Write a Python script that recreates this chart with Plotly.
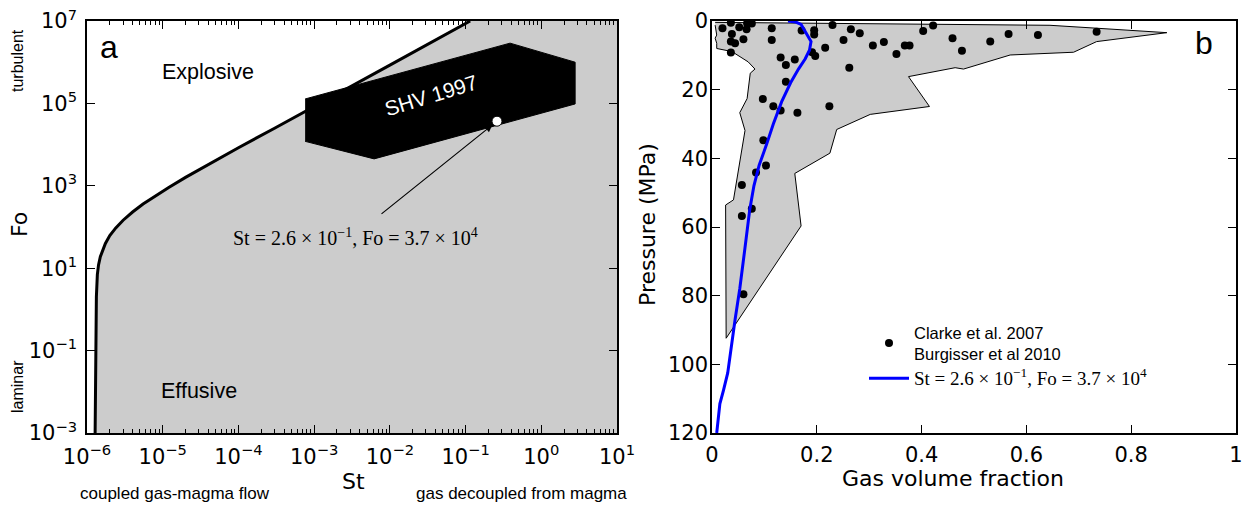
import numpy as np
import plotly.graph_objects as go

# ---------------- Panel a data ----------------
st_curve = [1.28e-6, 1.30e-6, 1.33e-6, 1.37e-6, 1.42e-6, 1.5e-6, 1.6e-6, 1.75e-6, 2.0e-6,
            2.4e-6, 3.0e-6, 4.0e-6, 5.5e-6, 8e-6, 1.2e-5, 2e-5, 4e-5, 1e-4, 3e-4, 1e-3,
            1e-2, 0.115]
fo_curve = [1e-3, 1e-1, 2.0, 7.0, 12.0, 19.0, 27.0, 40.0, 62.0,
            95.0, 146.0, 231.0, 360.0, 570.0, 910.0, 1600.0, 3300.0, 8400.0, 2.5e4, 8.5e4,
            8.5e5, 1e7]

shv_st = [7.6e-4, 0.387, 2.8, 2.8, 6.2e-3, 7.6e-4]
shv_fo = [1.28e5, 2.9e6, 1.0e6, 9.7e4, 4.5e3, 1.2e4]

point_st = [0.26]
point_fo = [3.7e4]
arrow_tail_st = 10 ** -2.13
arrow_tail_fo = 10 ** 2.29

st_range = [1e-6, 10]
fo_range = [1e-3, 1e7]
st_tick_exp = [-6, -5, -4, -3, -2, -1, 0, 1]
fo_tick_exp = [-3, -1, 1, 3, 5, 7]

# ---------------- Panel b data ----------------
env_x = [0.006, 0.435, 0.645, 0.734, 0.868, 0.734, 0.690, 0.569, 0.480, 0.464, 0.375, 0.415,
         0.302, 0.238, 0.225, 0.158, 0.170, 0.027, 0.026, 0.041, 0.063, 0.053, 0.067, 0.073,
         0.082, 0.069, 0.038, 0.009, 0.009, 0.006, 0.009, 0.006]
env_p = [0.4, 0.9, 1.25, 2.1, 3.4, 6.0, 9.1, 9.9, 14.0, 13.6, 16.2, 24.9,
         27.2, 31.6, 38.5, 44.4, 59.7, 92.4, 53.6, 52.1, 31.9, 26.7, 22.6, 15.2,
         14.0, 11.9, 8.9, 8.0, 6.5, 5.0, 4.1, 1.2]

obs_x = [0.020, 0.036, 0.038, 0.052, 0.067, 0.066, 0.076, 0.036, 0.044, 0.060, 0.036,
         0.114, 0.114, 0.131, 0.141, 0.158, 0.141, 0.171, 0.195, 0.195, 0.191, 0.197,
         0.216, 0.230, 0.265, 0.282, 0.251, 0.262, 0.307, 0.328, 0.352, 0.368, 0.377,
         0.403, 0.422, 0.459, 0.477, 0.531, 0.566, 0.622, 0.734, 0.097, 0.117, 0.131,
         0.163, 0.224, 0.098, 0.103, 0.084, 0.057, 0.076, 0.057, 0.060]
obs_p = [2.1, 0.5, 3.8, 1.8, 0.7, 2.4, 0.7, 6.0, 6.5, 5.3, 9.2,
         2.1, 5.5, 10.6, 12.8, 11.2, 17.7, 2.8, 2.7, 3.9, 9.1, 10.2,
         7.8, 1.2, 2.4, 3.6, 5.5, 13.6, 7.1, 6.1, 9.6, 7.1, 7.1,
         2.9, 1.3, 5.0, 8.7, 6.0, 3.8, 4.1, 3.1, 22.7, 24.8, 26.1,
         26.7, 24.8, 34.7, 42.1, 44.1, 47.8, 54.7, 56.8, 79.6]

model_x = [0.145, 0.160, 0.170, 0.176, 0.182, 0.189, 0.186, 0.178, 0.165, 0.150, 0.133,
           0.117, 0.104, 0.090, 0.080, 0.072, 0.063, 0.053, 0.044, 0.036, 0.030, 0.022,
           0.015, 0.009]
model_p = [0.0, 0.3, 1.0, 2.5, 4.2, 6.0, 8.5, 11.0, 14.0, 18.0, 23.5,
           30.0, 36.0, 42.0, 48.0, 55.0, 66.0, 78.0, 87.0, 96.0, 102.5, 107.5,
           111.5, 120.0]

x_ticks_b = [0, 0.2, 0.4, 0.6, 0.8, 1]
x_ticktext_b = ["0", "0.2", "0.4", "0.6", "0.8", "1"]
p_ticks_b = [0, 20, 40, 60, 80, 100, 120]

# page has an 8px body margin: figure is placed at (8, 8)
OFF = 8
FW, FH = 1251 - OFF, 508 - OFF
SANS = "Liberation Sans"
TICKF = "DejaVu Sans"
SERIF = "Liberation Serif"
MATH = "St = 2.6 × 10<sup>−1</sup>, Fo = 3.7 × 10<sup>4</sup>"
EPS = 1e-6


def px(xp):
    return (xp - OFF) / FW


def py(yp):
    return 1 - (yp - OFF) / FH


def pow_label(e):
    return "10<sup>" + (str(e) if e >= 0 else "−" + str(-e)) + "</sup>"


fig = go.Figure()

# gray region right of the boundary curve
fill_st = st_curve + [st_range[1], st_range[1]]
fill_fo = fo_curve + [fo_range[1], fo_range[0]]
fig.add_trace(go.Scatter(x=fill_st, y=fill_fo, fill="toself", fillcolor="#cccccc",
                         mode="none", showlegend=False, hoverinfo="skip",
                         xaxis="x", yaxis="y"))
fig.add_trace(go.Scatter(x=st_curve, y=fo_curve, mode="lines",
                         line=dict(color="black", width=3),
                         showlegend=False, xaxis="x", yaxis="y"))
fig.add_trace(go.Scatter(x=shv_st, y=shv_fo, fill="toself", fillcolor="black",
                         mode="lines", line=dict(color="black", width=1),
                         showlegend=False, xaxis="x", yaxis="y"))
fig.add_trace(go.Scatter(x=point_st, y=point_fo, mode="markers",
                         marker=dict(color="white", size=10, line=dict(color="black", width=1)),
                         showlegend=False, xaxis="x", yaxis="y"))

# panel b
fig.add_trace(go.Scatter(x=env_x, y=env_p, fill="toself", fillcolor="#cccccc",
                         mode="lines", line=dict(color="black", width=1),
                         showlegend=False, xaxis="x2", yaxis="y2"))
fig.add_trace(go.Scatter(x=obs_x, y=obs_p, mode="markers",
                         marker=dict(color="black", size=8),
                         name="Clarke et al. 2007<br>Burgisser et al 2010",
                         xaxis="x2", yaxis="y2"))
fig.add_trace(go.Scatter(x=model_x, y=model_p, mode="lines",
                         line=dict(color="#0000ff", width=3),
                         name='<span style="font-family:' + SERIF + ';font-size:19px">' + MATH + "</span>",
                         xaxis="x2", yaxis="y2"))

dom_xa = [px(87), px(617)]
dom_xb = [px(712), px(1236)]
dom_y = [py(433), py(21)]

minor_st = [m * 10.0 ** k for k in range(-6, 1) for m in range(2, 10)]

axis_common = dict(showline=True, linecolor="black", linewidth=1.5, mirror="allticks",
                   ticks="inside", ticklen=8, tickwidth=1, tickcolor="black",
                   showgrid=False, zeroline=False, automargin=False,
                   ticklabeloverflow="allow",
                   tickfont=dict(family=TICKF, size=21, color="black"))

fig.update_layout(
    width=FW, height=FH, margin=dict(l=0, r=0, t=0, b=0),
    paper_bgcolor="white", plot_bgcolor="white",
    xaxis=dict(type="log", domain=dom_xa, anchor="y",
               range=[np.log10(st_range[0]) - EPS, np.log10(st_range[1]) + EPS],
               tickvals=[10.0 ** e for e in st_tick_exp],
               ticktext=[pow_label(e) for e in st_tick_exp], tickangle=0,
               minor=dict(tickvals=minor_st, ticks="inside", ticklen=4, tickcolor="black"),
               ticklabelstandoff=4, **axis_common),
    yaxis=dict(type="log", domain=dom_y, anchor="x",
               range=[np.log10(fo_range[0]) - EPS, np.log10(fo_range[1]) + EPS],
               tickvals=[10.0 ** e for e in fo_tick_exp],
               ticktext=[pow_label(e) for e in fo_tick_exp],
               ticklabelstandoff=4, **axis_common),
    xaxis2=dict(domain=dom_xb, anchor="y2", range=[0, 1], tickvals=x_ticks_b,
                ticktext=x_ticktext_b, tickangle=0,
                ticklabelstandoff=2, **axis_common),
    yaxis2=dict(domain=dom_y, anchor="x2", range=[120, 0], tickvals=p_ticks_b,
                ticklabelstandoff=-2, **axis_common),
    legend=dict(x=px(864), y=py(315), xanchor="left", yanchor="top",
                bgcolor="rgba(0,0,0,0)", font=dict(family=SANS, size=16.5, color="black"),
                itemwidth=40),
    showlegend=True,
)

ann = []


def txt(text, x, y, size, xref="x", yref="y", family=SANS, color="black", angle=0, **kw):
    ann.append(dict(text=text, x=x, y=y, xref=xref, yref=yref, showarrow=False,
                    font=dict(family=family, size=size, color=color), textangle=angle,
                    xanchor="center", yanchor="middle", **kw))


# panel a texts (data coords in log10 units)
txt("a", -5.71, 6.38, 32)
txt("Explosive", -4.40, 5.76, 21.5)
txt("Effusive", -4.52, -1.98, 21.5)
txt("SHV 1997", -1.46, 5.20, 21, color="white", angle=-17)
txt(MATH, -2.46, 1.76, 20, family=SERIF)
ann.append(dict(x=np.log10(point_st[0]), y=np.log10(point_fo[0]), xref="x", yref="y",
                ax=np.log10(arrow_tail_st), ay=np.log10(arrow_tail_fo), axref="x", ayref="y",
                showarrow=True, arrowhead=2, arrowsize=1.2, arrowwidth=1.2,
                arrowcolor="black", standoff=6, text=""))

# outside labels (paper coords)
txt("turbulent", px(18), py(61), 16, xref="paper", yref="paper", angle=-90)
txt("laminar", px(17), py(387), 16, xref="paper", yref="paper", angle=-90)
txt("Fo", px(20), py(225), 22, xref="paper", yref="paper", angle=-90, family=TICKF)
txt("St", px(353), py(481), 22, xref="paper", yref="paper", family=TICKF)
txt("coupled gas-magma flow", px(175), py(493), 17, xref="paper", yref="paper")
txt("gas decoupled from magma", px(521), py(493), 17, xref="paper", yref="paper")

# panel b labels
txt("b", px(1204), py(43), 32, xref="paper", yref="paper")
txt("Pressure (MPa)", px(648), py(225), 22, xref="paper", yref="paper", angle=-90, family=TICKF)
txt("Gas volume fraction", px(953), py(478), 22, xref="paper", yref="paper", family=TICKF)

fig.update_layout(annotations=ann)
fig.write_html("out.html")
